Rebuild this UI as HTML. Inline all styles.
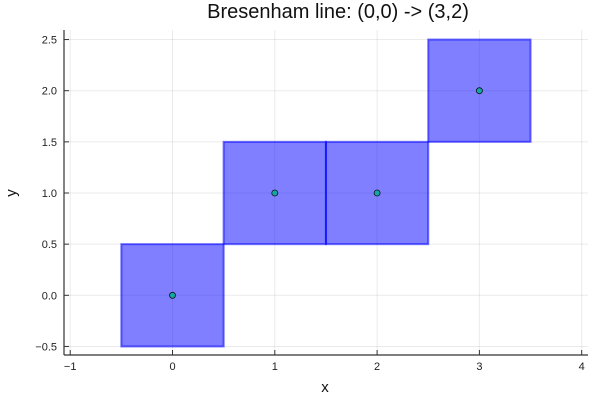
<!DOCTYPE html>
<html><head><meta charset="utf-8"><style>
body{margin:0;background:#fff}
svg{display:block;font-family:"Liberation Sans",sans-serif}
</style></head><body>
<svg id="c" width="600" height="400">
<text x="338" y="18" font-size="20" text-anchor="middle" fill="#111">Bresenham line: (0,0) -&gt; (3,2)</text>
<g id="grid"></g>
<g id="cells"></g>
<g id="pts"></g>
<g id="axes"></g>
<text x="325" y="392" font-size="15" text-anchor="middle" fill="#111">x</text>
<text x="16" y="193" font-size="15" text-anchor="middle" fill="#111" transform="rotate(-90 16 193)">y</text>
</svg>
<script>
const xs=[0,1,2,3];
const ys=[0,1,1,2];
const xTicks=[-1,0,1,2,3,4];
const yTicks=[-0.5,0,0.5,1,1.5,2,2.5];
const yLabels=["\u22120.5","0.0","0.5","1.0","1.5","2.0","2.5"];
const xLabels=["\u22121","0","1","2","3","4"];
const NS="http://www.w3.org/2000/svg";
const L=64,R=588,T=30,B=355;
const ux=102.3;
function X(v){return 172.5+v*ux;}
function Y(v){return 295.3-v*ux;}
function mk(p,t,a){const e=document.createElementNS(NS,t);for(const k in a)e.setAttribute(k,a[k]);p.appendChild(e);return e;}
const g=document.getElementById('grid'),c=document.getElementById('cells'),p=document.getElementById('pts'),ax=document.getElementById('axes');
xTicks.forEach((t,i)=>{
 const l=mk(g,'line',{x1:X(t),x2:X(t),y1:T,y2:B,stroke:'#000','stroke-opacity':0.08});
 
 
 mk(ax,'line',{x1:X(t),x2:X(t),y1:B,y2:B-5,stroke:'#333'});
 const tx=mk(ax,'text',{x:X(t),y:B+15,'font-size':11,'text-anchor':'middle',fill:'#222'});
 tx.textContent=xLabels[i];
 
 
});
yTicks.forEach((t,i)=>{
 const l=mk(g,'line',{x1:L,x2:R,y1:Y(t),y2:Y(t),stroke:'#000','stroke-opacity':0.08});
 
 
 mk(ax,'line',{x1:L,x2:L+5,y1:Y(t),y2:Y(t),stroke:'#333'});
 const tx=mk(ax,'text',{x:L-7,y:Y(t)+4,'font-size':11,'text-anchor':'end',fill:'#222'});
 tx.textContent=yLabels[i];
 
 
});
mk(ax,'line',{x1:L,x2:L,y1:T,y2:B,stroke:'#333','stroke-width':1.2});
mk(ax,'line',{x1:L,x2:R,y1:B,y2:B,stroke:'#333','stroke-width':1.2});
xs.forEach((x,i)=>{
 const r=mk(c,'rect',{x:X(x-0.5),y:Y(ys[i]+0.5),width:ux,height:ux,fill:'rgba(0,0,255,0.5)',stroke:'rgba(0,0,255,0.55)','stroke-width':2});
 
 
 const d=mk(p,'circle',{cx:X(x),cy:Y(ys[i]),r:3,fill:'#13a8a8',stroke:'#111','stroke-width':0.8});
 
 
});
</script>
</body></html>
